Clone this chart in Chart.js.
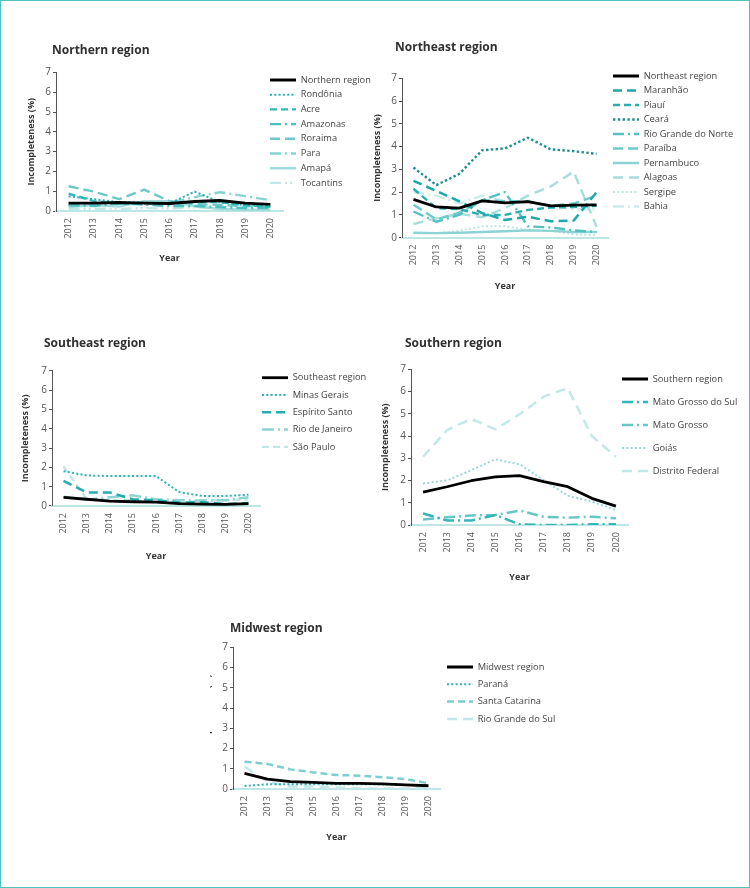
<!DOCTYPE html>
<html><head><meta charset="utf-8">
<script src="https://cdn.jsdelivr.net/npm/chart.js@4"></script>
<style>
html,body{margin:0;padding:0;background:#fff;}
#page{position:relative;width:750px;height:888px;overflow:hidden;background:#fff;}
#frame{position:absolute;left:0;top:0;width:750px;height:888px;box-sizing:border-box;border:1.5px solid #4ec2c4;pointer-events:none;z-index:10;}
canvas{position:absolute;left:0;top:0;}
.ttl{position:absolute;font-family:'Open Sans',sans-serif;font-weight:700;font-size:12px;color:#2f2f2f;line-height:16px;white-space:nowrap;}
.clip{position:absolute;overflow:hidden;}
</style></head><body>
<div id="page"><div id="frame"></div></div>
<script>
// ---- categories / ticks ----
const years = ['2012','2013','2014','2015','2016','2017','2018','2019','2020'];
const yTicks = [0,1,2,3,4,5,6,7];

// ---- Northern region ----
const northernRegion = [0.40,0.40,0.43,0.40,0.38,0.48,0.53,0.40,0.33];
const rondonia       = [0.75,0.60,0.45,0.42,0.38,0.98,0.45,0.30,0.25];
const acre           = [0.88,0.50,0.38,0.38,0.35,0.45,0.45,0.30,0.20];
const amazonas       = [0.30,0.25,0.40,0.32,0.25,0.25,0.20,0.15,0.15];
const roraima        = [1.25,0.98,0.60,1.08,0.50,0.35,0.30,0.25,0.20];
const para           = [0.25,0.35,0.35,0.40,0.42,0.70,0.95,0.75,0.55];
const amapa          = [0.20,0.30,0.22,0.50,0.50,0.25,0.10,0.05,0.05];
const tocantins      = [0.10,0.12,0.10,0.15,0.12,0.20,0.10,0.08,0.05];

// ---- Northeast region ----
const northeastRegion  = [1.68,1.35,1.30,1.62,1.53,1.58,1.40,1.43,1.44];
const maranhao         = [2.50,2.05,1.60,1.08,0.78,0.92,0.72,0.75,2.00];
const piaui            = [2.15,1.30,1.25,1.00,1.00,1.22,1.32,1.35,1.40];
const ceara            = [3.08,2.31,2.80,3.84,3.92,4.39,3.88,3.80,3.68];
const rioGrandeDoNorte = [1.15,0.70,1.00,1.65,2.00,0.50,0.45,0.32,0.25];
const paraiba          = [1.45,0.80,1.10,1.65,1.60,1.60,1.40,1.50,1.85];
const pernambuco       = [0.22,0.20,0.22,0.25,0.28,0.32,0.30,0.25,0.25];
const alagoas          = [0.60,0.85,1.05,0.90,1.30,1.85,2.25,2.90,0.48];
const sergipe          = [0.20,0.20,0.30,0.50,0.50,0.35,0.30,0.15,0.10];
const bahia            = [2.00,1.85,1.50,1.85,1.60,1.50,1.40,1.25,1.25];

// ---- Southeast region ----
const southeastRegion = [0.45,0.35,0.25,0.22,0.20,0.12,0.10,0.08,0.12];
const minasGerais     = [1.80,1.58,1.55,1.55,1.55,0.72,0.52,0.52,0.58];
const espiritoSanto   = [1.30,0.70,0.70,0.35,0.30,0.18,0.20,0.10,0.15];
const rioDeJaneiro    = [0.48,0.33,0.45,0.55,0.35,0.30,0.28,0.30,0.45];
const saoPaulo        = [2.05,0.35,0.30,0.30,0.22,0.15,0.30,0.30,0.35];

// ---- Southern region ----
const southernRegion  = [1.48,1.72,1.99,2.16,2.22,1.95,1.72,1.20,0.85];
const matoGrossoDoSul = [0.52,0.20,0.20,0.45,0.03,0.00,0.00,0.03,0.03];
const matoGrosso      = [0.25,0.35,0.43,0.45,0.65,0.37,0.33,0.37,0.30];
const goias           = [1.87,2.00,2.47,2.95,2.73,2.02,1.32,1.05,0.67];
const distritoFederal = [3.07,4.27,4.77,4.30,4.98,5.77,6.15,4.00,3.07];

// ---- Midwest region ----
const midwestRegion  = [0.77,0.49,0.36,0.33,0.28,0.28,0.25,0.20,0.16];
const parana         = [0.15,0.23,0.23,0.23,0.24,0.24,0.23,0.20,0.16];
const santaCatarina  = [1.35,1.24,0.97,0.82,0.69,0.66,0.58,0.49,0.28];
const rioGrandeDoSul = [1.10,0.36,0.12,0.12,0.07,0.03,0.03,0.03,0.07];

// ---- styles ----
const SOLID=[], DOT=[2,2.3], DASH=[7,4], LDASH=[10,5], DASHDOT=[11,4,2,4], DASHDOTDOT=[11,4,2,3,2,4];
const BLACK={color:'#000000',dash:SOLID,w:2.8};

const panels = [
 {title:'Northern region', tx:52, ty:50,
  box:{L:56,R:283,T:72.5,B:211,yTitleX:31.7,yearOff:47}, legend:{x:270,y:80,pad:5.4},
  series:[
   {label:'Northern region',data:northernRegion,...BLACK},
   {label:'Rondônia',data:rondonia,color:'#26b1b4',dash:DOT,w:2},
   {label:'Acre',data:acre,color:'#33b7b9',dash:DASH,w:2.4},
   {label:'Amazonas',data:amazonas,color:'#4cbfc0',dash:DASHDOT,w:2.4},
   {label:'Roraima',data:roraima,color:'#6bc9ca',dash:LDASH,w:2.4},
   {label:'Para',data:para,color:'#88d3d3',dash:DASHDOT,w:2.4},
   {label:'Amapá',data:amapa,color:'#a2dbdb',dash:SOLID,w:2.4},
   {label:'Tocantins',data:tocantins,color:'#c2e7e7',dash:DASHDOTDOT,w:2.4}
  ]},
 {title:'Northeast region', tx:395, ty:47,
  box:{L:402,R:608,T:78.3,B:237.7,yTitleX:377,yearOff:49}, legend:{x:613,y:76,pad:5.2},
  series:[
   {label:'Northeast region',data:northeastRegion,...BLACK},
   {label:'Maranhão',data:maranhao,color:'#1fa7aa',dash:[9,5],w:2.5},
   {label:'Piauí',data:piaui,color:'#2aaeb0',dash:DASH,w:2.4},
   {label:'Ceará',data:ceara,color:'#1e8d91',dash:[2.4,2.4],w:2.4},
   {label:'Rio Grande do Norte',data:rioGrandeDoNorte,color:'#55c0c1',dash:DASHDOT,w:2.4},
   {label:'Paraíba',data:paraiba,color:'#6ecacb',dash:LDASH,w:2.4},
   {label:'Pernambuco',data:pernambuco,color:'#8cd3d3',dash:SOLID,w:2.4},
   {label:'Alagoas',data:alagoas,color:'#a7dddd',dash:[10,6],w:2.4},
   {label:'Sergipe',data:sergipe,color:'#bfe5e5',dash:DOT,w:2},
   {label:'Bahia',data:bahia,color:'#cdebeb',dash:DASHDOT,w:2.4}
  ]},
 {title:'Southeast region', tx:44, ty:343,
  box:{L:52,R:260,T:370.7,B:506,yTitleX:25,yearOff:50}, legend:{x:262,y:377.7,pad:8},
  series:[
   {label:'Southeast region',data:southeastRegion,...BLACK},
   {label:'Minas Gerais',data:minasGerais,color:'#2ab2b5',dash:DOT,w:2},
   {label:'Espírito Santo',data:espiritoSanto,color:'#27adb0',dash:[9,5],w:2.5},
   {label:'Rio de Janeiro',data:rioDeJaneiro,color:'#8fd4d4',dash:[12,4,2,4],w:2.5},
   {label:'São Paulo',data:saoPaulo,color:'#c0e6e6',dash:DASH,w:2.4}
  ]},
 {title:'Southern region', tx:405, ty:343,
  box:{L:411,R:628,T:369.3,B:525,yTitleX:385.7,yearOff:52}, legend:{x:622,y:379,pad:13.7},
  series:[
   {label:'Southern region',data:southernRegion,...BLACK},
   {label:'Mato Grosso do Sul',data:matoGrossoDoSul,color:'#33b7b9',dash:DASHDOT,w:2.5},
   {label:'Mato Grosso',data:matoGrosso,color:'#66c7c8',dash:DASHDOT,w:2.5},
   {label:'Goiás',data:goias,color:'#9ad7d7',dash:DOT,w:2},
   {label:'Distrito Federal',data:distritoFederal,color:'#c3e8e8',dash:[10,6],w:2.5}
  ]},
 {title:'Midwest region', tx:230, ty:627.7, clipLeft:210,
  box:{L:233,R:440,T:647.3,B:789,yTitleX:207,yearOff:48}, legend:{x:447,y:667,pad:8},
  series:[
   {label:'Midwest region',data:midwestRegion,...BLACK},
   {label:'Paraná',data:parana,color:'#2ab2b5',dash:DOT,w:2},
   {label:'Santa Catarina',data:santaCatarina,color:'#7dcfcf',dash:DASH,w:2.5},
   {label:'Rio Grande do Sul',data:rioGrandeDoSul,color:'#c3e8e8',dash:[10,6],w:2.5}
  ]}
];

Chart.defaults.font.family = "'Open Sans', sans-serif";

const legendPos = {
  id:'legendPos',
  afterLayout(chart, args, o){
    const lg = chart.legend; if(!lg) return;
    lg.left = o.x - o.pad; lg.right = lg.left + 260; lg.width = 260;
    lg.top = o.y - o.pad - o.fs/2; lg.bottom = lg.top + 320; lg.height = 320;
  }
};

const LEG_FS = 9.3;
const page = document.getElementById('page');

panels.forEach(p=>{
  const cv = document.createElement('canvas');
  cv.width = 750; cv.height = 888;
  cv.style.width = '750px'; cv.style.height = '888px';
  if (p.clipLeft){
    const d = document.createElement('div');
    d.className = 'clip';
    d.style.left = p.clipLeft+'px'; d.style.top = '0px';
    d.style.width = (750-p.clipLeft)+'px'; d.style.height = '888px';
    cv.style.left = (-p.clipLeft)+'px';
    d.appendChild(cv); page.appendChild(d);
  } else page.appendChild(cv);

  const t = document.createElement('div');
  t.className = 'ttl'; t.textContent = p.title;
  t.style.left = p.tx+'px'; t.style.top = (p.ty-8)+'px';
  page.appendChild(t);

  const b = p.box;
  const YW = b.L - b.yTitleX + 5.4;
  const XH = 58;
  new Chart(cv.getContext('2d'), {
    type:'line',
    data:{labels:years, datasets:p.series.map(s=>({
      label:s.label, data:s.data, borderColor:s.color, backgroundColor:s.color,
      borderWidth:s.w, borderDash:s.dash, borderCapStyle:'butt', borderJoinStyle:'round',
      pointRadius:0, pointHoverRadius:0, tension:0, fill:false
    }))},
    options:{
      responsive:false, animation:false, events:[],
      layout:{padding:{left:b.L-YW, right:750-b.R, top:b.T, bottom:888-b.B-XH}},
      scales:{
        x:{type:'category', offset:true,
           grid:{display:false, drawTicks:false},
           border:{display:true, color:'#bfe6e6', width:2},
           ticks:{autoSkip:false, minRotation:90, maxRotation:90, padding:7, color:'#555', font:{size:9}},
           title:{display:true, text:'Year', color:'#333', font:{size:9, weight:'bold'}, padding:{top:0, bottom:XH-b.yearOff-5.4}},
           afterFit:s=>{ s.height = XH; s.paddingLeft = 0; s.paddingRight = 0; }},
        y:{min:yTicks[0], max:yTicks[yTicks.length-1],
           ticks:{stepSize:yTicks[1]-yTicks[0], padding:2, color:'#555', font:{size:10}},
           grid:{drawOnChartArea:false, drawTicks:true, tickLength:3, color:'#555'},
           border:{display:true, color:'#555', width:1},
           title:{display:true, text:'Incompleteness (%)', color:'#333', font:{size:9, weight:'bold'}, padding:{top:0, bottom:0}},
           afterFit:s=>{ s.width = YW; s.paddingTop = 0; s.paddingBottom = 0; }}
      },
      plugins:{
        legend:{position:'chartArea', align:'start',
          labels:{usePointStyle:true, pointStyle:'line', pointStyleWidth:26, padding:p.legend.pad,
            color:'#444', font:{size:LEG_FS},
            generateLabels:(chart)=>chart.data.datasets.map((ds,i)=>({
              text:ds.label, fillStyle:ds.borderColor, strokeStyle:ds.borderColor,
              lineWidth:ds.borderWidth, lineDash:ds.borderDash, lineCap:ds.borderCapStyle,
              lineJoin:'miter', pointStyle:'line', hidden:false, datasetIndex:i, fontColor:'#444'
            }))}},
        tooltip:{enabled:false},
        legendPos:{x:p.legend.x, y:p.legend.y, pad:p.legend.pad, fs:LEG_FS}
      }
    },
    plugins:[legendPos]
  });
});
</script>
</body></html>
